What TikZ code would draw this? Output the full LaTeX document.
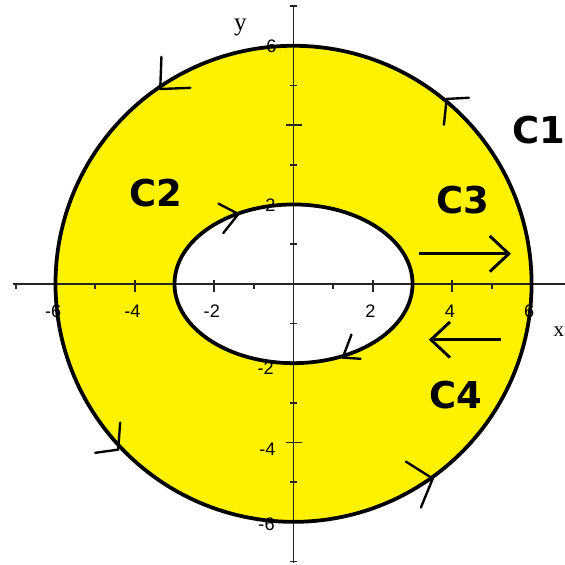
\documentclass[tikz,border=0pt]{standalone}
\usepackage{fontspec}
\setmainfont{Liberation Serif}
\newfontfamily\tickfont{Liberation Sans}
\newfontfamily\cfont{DejaVu Sans}
\usetikzlibrary{arrows.meta}
\begin{document}
\begin{tikzpicture}[x=1cm,y=1cm,
  axisline/.style={line width=1.1pt,black!85},
  ticklab/.style={font=\tickfont\fontsize{13}{14}\selectfont,inner sep=0pt},
  clab/.style={font=\cfont\bfseries\fontsize{26.5}{28}\selectfont,inner sep=0pt},
  outline/.style={line width=2.7pt,black},
  orimark/.style={line width=1.7pt,line cap=round,line join=round},
  bigarrow/.style={line width=2.1pt,-{Straight Barb[length=4.8mm,width=9mm,line width=2.1pt]}}]
\useasboundingbox (-7.399,-7.078) rectangle (6.843,7.154);
\fill[white] (-7.399,-7.078) rectangle (6.843,7.154);
% ring
\fill[yellow,even odd rule] (0,0) circle[radius=6] (0,0) ellipse[x radius=3,y radius=2];
% axes
\coordinate (xl) at (-7.07,0); \coordinate (xr) at (6.843,0);
\coordinate (yb) at (0,-7.03); \coordinate (yt) at (0,6.98);
\draw[axisline] (xl) -- (xr);
\draw[axisline] (yb) -- (yt);
\foreach \t in {-6,-4,-2,2,4,6}{
  \draw[axisline] (\t,0.1) -- (\t,-0.2);
  \draw[axisline] (-0.18,\t) -- (0.22,\t);}
\foreach \t in {-7,-5,-3,-1,1,3,5}{
  \draw[axisline] (\t,0) -- (\t,-0.12);
  \draw[axisline] (-0.1,\t) -- (0.1,\t);}
\draw[axisline] (-0.1,7) -- (0.1,7);
% tick labels
\foreach \t/\lab in {-6/-6,-4/-4,-2/-2,2/2,4/4,6/6}{
  \node[ticklab] (xt\t) at (\t-0.06,-0.7) {\lab};}
\node[ticklab] (yt6) at (-0.56,5.99) {6};
\node[ticklab] (yt2) at (-0.58,1.99) {2};
\node[ticklab] (ytm2) at (-0.70,-2.12) {-2};
\node[ticklab] (ytm4) at (-0.66,-4.16) {-4};
\node[ticklab] (ytm6) at (-0.68,-6.05) {-6};
% axis names
\node[font=\fontsize{18}{20}\selectfont,inner sep=0pt] (ylab) at (-1.34,6.45) {y};
\node[font=\fontsize{15}{16}\selectfont,inner sep=0pt] (xlab) at (6.69,-1.2) {x};
% outlines
\draw[outline] (0,0) circle[radius=6];
\draw[outline] (0,0) ellipse[x radius=3,y radius=2];
% orientation marks on the circle
\draw[orimark] (-3.33,5.72) -- (-3.36,4.91) -- (-2.60,4.94);
\draw[orimark] (4.42,4.69) -- (3.86,4.66) -- (3.79,4.01);
\draw[orimark] (-4.37,-3.50) -- (-4.42,-4.18) -- (-5.0,-4.26);
\draw[orimark] (2.83,-4.48) -- (3.51,-4.91) -- (3.21,-5.64);
% orientation marks on the ellipse
\draw[orimark] (-1.89,2.02) -- (-1.39,1.76) -- (-1.77,1.28);
\draw[orimark] (1.46,-1.28) -- (1.24,-1.86) -- (1.69,-1.89);
% C3 and C4 arrows
\coordinate (c3s) at (3.16,0.756); \coordinate (c3e) at (5.48,0.756);
\coordinate (c4s) at (5.23,-1.41); \coordinate (c4e) at (3.41,-1.41);
\draw[bigarrow] (c3s) -- (c3e);
\draw[bigarrow] (c4s) -- (c4e);
% labels
\node[clab] (C1) at (6.19,3.88) {C1};
\node[clab] (C2) at (-3.48,2.29) {C2};
\node[clab] (C3) at (4.27,2.12) {C3};
\node[clab] (C4) at (4.09,-2.80) {C4};
\end{tikzpicture}
\end{document}
